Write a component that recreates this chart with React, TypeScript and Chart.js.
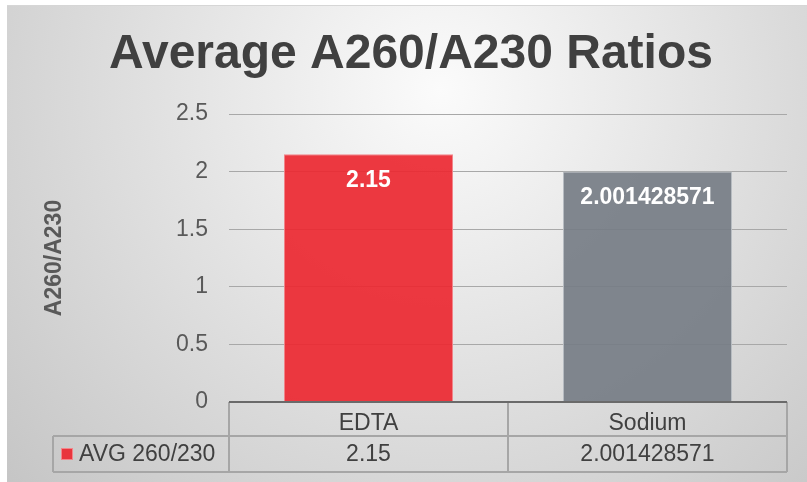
import React, { useEffect, useRef } from "react";
import { Chart, registerables } from "chart.js";

Chart.register(...registerables);

const categories: string[] = ["EDTA", "Sodium"];
const seriesName = "AVG 260/230";
const values: number[] = [2.15, 2.001428571];
const valueLabels: string[] = ["2.15", "2.001428571"];
const chartTitle = "Average A260/A230 Ratios";
const yAxisTitle = "A260/A230";
const yMin = 0;
const yMax = 2.5;
const yStep = 0.5;

const FONT = "'Liberation Sans', Arial, Helvetica, sans-serif";
const barColors = ["rgba(236,40,49,0.92)", "rgba(118,125,133,0.92)"];
const barBorders = ["#F2858A", "#B9BEC3"];

const backgroundPlugin = {
  id: "bgPlugin",
  beforeDraw(chart: any) {
    const { ctx, width, height } = chart;
    ctx.save();
    ctx.fillStyle = "#ffffff";
    ctx.fillRect(0, 0, width, height);
    const g = ctx.createRadialGradient(440, 90, 0, 440, 90, 600);
    g.addColorStop(0, "#fbfbfb");
    g.addColorStop(1, "#c4c4c4");
    ctx.fillStyle = g;
    ctx.fillRect(7, 5, width - 7, height - 5);
    ctx.strokeStyle = "#d6d6d6";
    ctx.lineWidth = 1;
    ctx.beginPath();
    ctx.moveTo(7, 5.5);
    ctx.lineTo(width, 5.5);
    ctx.stroke();
    ctx.restore();
  },
};

const dataLabelPlugin = {
  id: "dataLabels",
  afterDatasetsDraw(chart: any) {
    const { ctx } = chart;
    const meta = chart.getDatasetMeta(0);
    ctx.save();
    ctx.font = `bold 23px ${FONT}`;
    ctx.fillStyle = "#ffffff";
    ctx.textAlign = "center";
    ctx.textBaseline = "middle";
    meta.data.forEach((bar: any, i: number) => {
      ctx.fillText(valueLabels[i], bar.x, bar.y + 26);
    });
    ctx.restore();
  },
};

const tablePlugin = {
  id: "dataTable",
  afterDraw(chart: any) {
    const { ctx, chartArea } = chart;
    const xs = chart.scales.x;
    const left = chartArea.left;
    const right = chartArea.right;
    const top = chartArea.bottom;
    const rowH1 = 34;
    const rowH2 = 36;
    const mid = top + rowH1;
    const bottom = mid + rowH2;
    const labelLeft = 53;
    const half = (xs.getPixelForTick(1) - xs.getPixelForTick(0)) / 2;

    ctx.save();
    ctx.strokeStyle = "#a6a6a6";
    ctx.lineWidth = 2;
    ctx.beginPath();
    ctx.moveTo(labelLeft, mid);
    ctx.lineTo(right, mid);
    ctx.moveTo(labelLeft, bottom);
    ctx.lineTo(right, bottom);
    ctx.moveTo(labelLeft, mid);
    ctx.lineTo(labelLeft, bottom);
    ctx.moveTo(left, top);
    ctx.lineTo(left, bottom);
    categories.forEach((_, i) => {
      const xr = xs.getPixelForTick(i) + half;
      ctx.moveTo(xr, top);
      ctx.lineTo(xr, bottom);
    });
    ctx.stroke();

    ctx.strokeStyle = "#6a6a6a";
    ctx.lineWidth = 2;
    ctx.beginPath();
    ctx.moveTo(left, top);
    ctx.lineTo(right, top);
    ctx.stroke();

    const cy = mid + rowH2 / 2;
    ctx.fillStyle = barColors[0];
    ctx.fillRect(61, cy - 6, 12, 12);
    ctx.strokeStyle = barBorders[0];
    ctx.lineWidth = 1;
    ctx.strokeRect(61.5, cy - 5.5, 11, 11);

    ctx.font = `23px ${FONT}`;
    ctx.fillStyle = "#404040";
    ctx.textBaseline = "middle";
    ctx.textAlign = "left";
    ctx.fillText(seriesName, 79, cy + 1);
    ctx.textAlign = "center";
    valueLabels.forEach((t, i) => {
      ctx.fillText(t, xs.getPixelForTick(i), cy + 1);
    });
    ctx.restore();
  },
};

export default function App() {
  const canvasRef = useRef<HTMLCanvasElement | null>(null);

  useEffect(() => {
    if (!canvasRef.current) return;
    const chart = new Chart(canvasRef.current, {
      type: "bar",
      data: {
        labels: categories,
        datasets: [
          {
            label: seriesName,
            data: values,
            backgroundColor: barColors,
            borderColor: barBorders,
            borderWidth: 1,
            barPercentage: 0.606,
            categoryPercentage: 1,
          },
        ],
      },
      options: {
        responsive: false,
        animation: false,
        layout: { padding: { top: 5, left: 35, right: 20, bottom: 10 } },
        plugins: {
          legend: { display: false },
          tooltip: { enabled: false },
          title: {
            display: true,
            text: chartTitle,
            color: "#404040",
            font: { family: FONT, size: 48, weight: "bold", lineHeight: 1.2 },
            padding: { top: 20.6, bottom: 30.8 },
          },
        },
        scales: {
          x: {
            grid: { display: false },
            border: { display: false },
            ticks: {
              color: "#404040",
              font: { family: FONT, size: 23 },
              padding: 0,
              maxRotation: 0,
              autoSkip: false,
            },
            afterFit(scale: any) {
              scale.height = 70;
            },
          },
          y: {
            min: yMin,
            max: yMax,
            border: { display: false },
            grid: { color: "#a8a8a8", lineWidth: 1, drawTicks: false },
            ticks: {
              stepSize: yStep,
              color: "#595959",
              font: { family: FONT, size: 23 },
              padding: 21,
              callback: (v: any) => String(Number(v)),
            },
            title: {
              display: true,
              text: yAxisTitle,
              color: "#595959",
              font: { family: FONT, size: 23, weight: "bold", lineHeight: 1.2 },
              padding: { top: 6, bottom: 0 },
            },
            afterFit(scale: any) {
              scale.width = 194;
            },
          },
        },
      },
      plugins: [backgroundPlugin, dataLabelPlugin, tablePlugin],
    });
    return () => chart.destroy();
  }, []);

  return (
    <div style={{ position: "fixed", left: 0, top: 0, width: 807, height: 482 }}>
      <canvas ref={canvasRef} width={807} height={482} style={{ display: "block" }} />
    </div>
  );
}
